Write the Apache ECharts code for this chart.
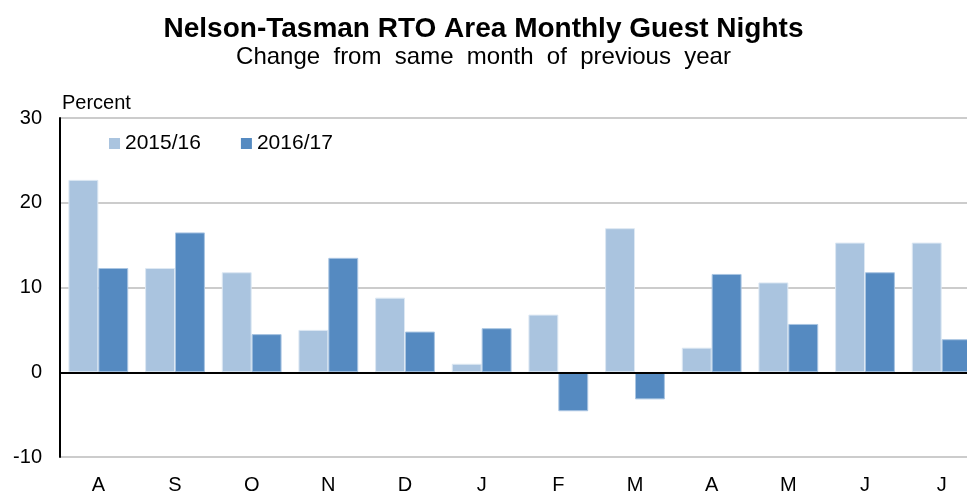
<!DOCTYPE html>
<html>
<head>
<meta charset="utf-8">
<script src="https://cdn.jsdelivr.net/npm/echarts@6/dist/echarts.min.js"></script>
<style>
  html, body { margin: 0; padding: 0; background: #fff; }
  #chart { width: 967px; height: 496px; }
</style>
</head>
<body>
<div id="chart"></div>
<script>
// months, August to July
const months = ['A', 'S', 'O', 'N', 'D', 'J', 'F', 'M', 'A', 'M', 'J', 'J'];
const year1516 = [22.7, 12.3, 11.8, 5.0, 8.8, 1.0, 6.8, 17.0, 2.9, 10.6, 15.3, 15.3];
const year1617 = [12.3, 16.5, 4.5, 13.5, 4.8, 5.2, -4.6, -3.2, 11.6, 5.7, 11.8, 3.9];
const seriesNames = ['2015/16', '2016/17'];
const yTicks = { min: -10, max: 30, interval: 10 };

const font = 'Liberation Sans, Arial, sans-serif';

const chart = echarts.init(document.getElementById('chart'));

chart.setOption({
  animation: false,
  title: [
    {
      text: 'Nelson-Tasman RTO Area Monthly Guest Nights',
      left: 'center',
      top: 10,
      textStyle: { fontFamily: font, fontSize: 28, fontWeight: 'bold', color: '#000' }
    },
    {
      text: 'Change  from  same  month  of  previous  year',
      left: 'center',
      top: 40,
      textStyle: { fontFamily: font, fontSize: 24, fontWeight: 'normal', color: '#000' }
    }
  ],
  legend: {
    left: 109,
    top: 133,
    padding: 0,
    itemWidth: 11,
    itemHeight: 11,
    itemGap: 40,
    icon: 'rect',
    itemStyle: { borderWidth: 0 },
    textStyle: { fontFamily: font, fontSize: 21, color: '#000' },
    data: seriesNames
  },
  // the last month is cut off by the right edge in the original
  grid: { left: 60, width: 920, top: 118, bottom: 39, outerBoundsMode: 'none' },
  xAxis: {
    type: 'category',
    data: months,
    axisLine: { show: false },
    axisTick: { show: false },
    axisLabel: { fontFamily: font, fontSize: 20, color: '#000', margin: 18 }
  },
  yAxis: {
    type: 'value',
    min: yTicks.min,
    max: yTicks.max,
    interval: yTicks.interval,
    name: 'Percent',
    nameLocation: 'end',
    nameGap: 5,
    nameTextStyle: { fontFamily: font, fontSize: 20, color: '#000', align: 'left', padding: [0, 0, 0, 2] },
    axisLine: { show: true, lineStyle: { color: '#000', width: 2 } },
    axisTick: { show: false },
    axisLabel: { fontFamily: font, fontSize: 20, color: '#000', margin: 18 },
    splitLine: { lineStyle: { color: '#cccccc', width: 2 } }
  },
  series: [
    {
      name: seriesNames[0],
      type: 'bar',
      data: year1516,
      barGap: '0%',
      barCategoryGap: '22%',
      itemStyle: { color: '#aac4df', borderColor: '#dde8f3', borderWidth: 1 },
      markLine: {
        silent: true,
        symbol: 'none',
        label: { show: false },
        lineStyle: { color: '#000', type: 'solid', width: 2 },
        data: [{ yAxis: 0 }]
      }
    },
    {
      name: seriesNames[1],
      type: 'bar',
      data: year1617,
      itemStyle: { color: '#558ac1', borderColor: '#a9c5e2', borderWidth: 1 }
    }
  ]
});
</script>
</body>
</html>
